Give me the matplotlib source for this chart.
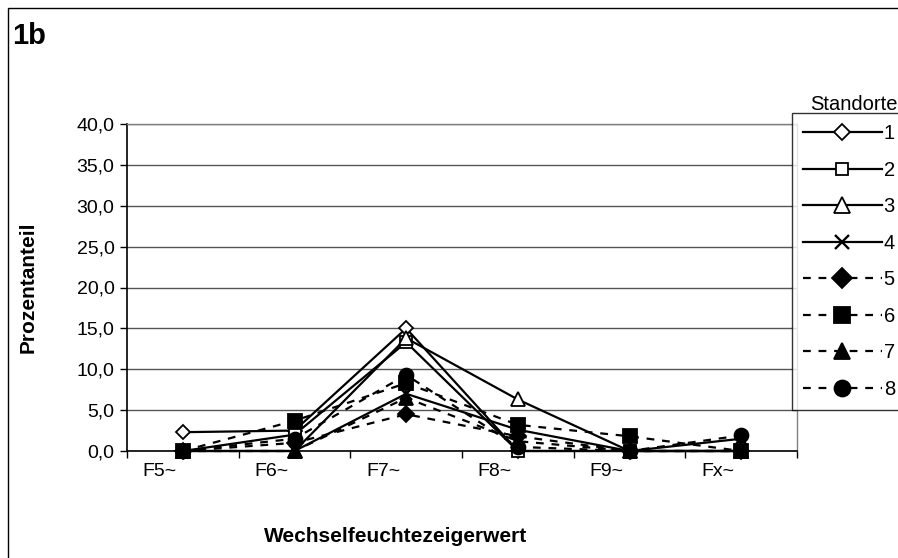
import matplotlib
matplotlib.use("Agg")
import matplotlib.pyplot as plt
import matplotlib.transforms as mtransforms
from matplotlib.patches import Rectangle

plt.rcParams['font.family'] = ['Liberation Sans', 'DejaVu Sans']

categories = ["F5~", "F6~", "F7~", "F8~", "F9~", "Fx~"]
site_labels = ["1", "2", "3", "4", "5", "6", "7", "8"]

site1 = [2.3, 2.5, 15.0, 0.0, 0.0, 0.0]
site2 = [0.0, 2.0, 13.3, 0.0, 0.0, 0.0]
site3 = [0.0, 0.0, 13.8, 6.3, 0.0, 0.0]
site4 = [0.0, 0.0, 7.0, 2.6, 0.0, 1.5]
site5 = [0.0, 1.0, 4.5, 1.8, 0.0, 0.0]
site6 = [0.0, 3.7, 8.3, 3.2, 1.8, 0.0]
site7 = [0.0, 0.0, 6.5, 1.2, 0.0, 0.0]
site8 = [0.0, 1.5, 9.3, 0.5, 0.0, 1.9]
series = [site1, site2, site3, site4, site5, site6, site7, site8]

y_ticks = [0, 5, 10, 15, 20, 25, 30, 35, 40]

styles = [
    dict(ls='-', marker='D', mfc='white', ms=7.5),
    dict(ls='-', marker='s', mfc='white', ms=8),
    dict(ls='-', marker='^', mfc='white', ms=9.5),
    dict(ls='-', marker='x', mfc='black', ms=9, mew=1.7),
    dict(ls=(0, (3.5, 3.5)), marker='D', mfc='black', ms=8.5),
    dict(ls=(0, (3.5, 3.5)), marker='s', mfc='black', ms=9.5),
    dict(ls=(0, (3.5, 3.5)), marker='^', mfc='black', ms=10),
    dict(ls=(0, (3.5, 3.5)), marker='o', mfc='black', ms=10),
]

TICK_FS = 14
LABEL_FS = 15

W, H = 898, 558
fig = plt.figure(figsize=(W / 100, H / 100), dpi=100)

# outer chart frame
fig.patches.append(Rectangle((8 / W, -0.1), 1.2, 1 - 8 / H + 0.1,
                             transform=fig.transFigure, fill=False,
                             edgecolor='black', lw=1.0))

ax = fig.add_axes([127 / W, 1 - 451 / H, 670 / W, 327 / H])
x = list(range(len(categories)))
handles = []
for vals, st, lab in zip(series, styles, site_labels):
    h, = ax.plot(x, vals, color='black', lw=1.6, linestyle=st['ls'],
                 marker=st['marker'], markerfacecolor=st['mfc'],
                 markeredgecolor='black', markersize=st['ms'],
                 markeredgewidth=st.get('mew', 1.3), label=lab,
                 dash_capstyle='butt', clip_on=False, zorder=3)
    handles.append(h)

ax.set_xlim(-0.5, len(categories) - 0.5)
ax.set_ylim(0, 40)
ax.set_yticks(y_ticks)
ax.set_yticklabels([f"{v:.1f}".replace('.', ',') for v in y_ticks], fontsize=TICK_FS)
ax.yaxis.grid(True, color='#555555', lw=1.0)
ax.set_axisbelow(True)

ax.set_xticks([i - 0.5 for i in range(len(categories) + 1)])
ax.set_xticklabels([])
ax.set_xticks(x, minor=True)
ax.set_xticklabels(categories, minor=True, fontsize=TICK_FS)
ax.tick_params(axis='x', which='minor', length=0, pad=9)
ax.tick_params(axis='x', which='major', length=5, width=1, direction='out')
ax.tick_params(axis='y', length=5, width=1, direction='out', pad=4)
shift = mtransforms.ScaledTranslation(-23 / 100, 0, fig.dpi_scale_trans)
for lbl in ax.get_xticklabels(minor=True):
    lbl.set_transform(lbl.get_transform() + shift)

for side in ('top', 'right'):
    ax.spines[side].set_color('#808080')
    ax.spines[side].set_linewidth(1.0)
for side in ('left', 'bottom'):
    ax.spines[side].set_color('black')
    ax.spines[side].set_linewidth(1.2)

fig.text(28 / W, 1 - 287 / H, "Prozentanteil", rotation=90, ha='center',
         va='center', fontsize=LABEL_FS, fontweight='bold')
fig.text(396 / W, 1 - 537 / H, "Wechselfeuchtezeigerwert", ha='center',
         va='center', fontsize=LABEL_FS, fontweight='bold')
fig.text(12 / W, 1 - 36 / H, "1b", ha='left', va='center', fontsize=21,
         fontweight='bold')
fig.text(810 / W, 1 - 104 / H, "Standorte", ha='left', va='center',
         fontsize=14.5)

leg = fig.legend(handles=handles, loc='upper left',
                 bbox_to_anchor=(792 / W, 1 - 113 / H), borderaxespad=0,
                 fontsize=14.5, frameon=True, fancybox=False, edgecolor='black',
                 handlelength=3.9, handletextpad=0.1, labelspacing=0.87,
                 borderpad=0.55, markerscale=1.15)
leg.get_frame().set_linewidth(1.0)

fig.savefig("out.png", dpi=100, facecolor='white')
